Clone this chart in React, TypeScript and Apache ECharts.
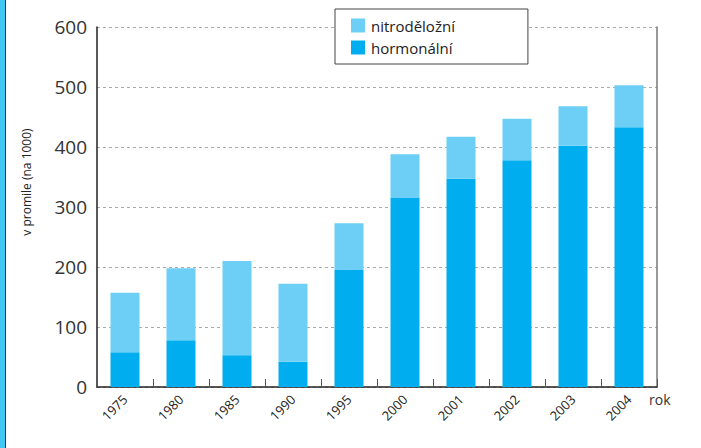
import React, { useEffect, useRef } from "react";
import * as echarts from "echarts";

const years = ["1975", "1980", "1985", "1990", "1995", "2000", "2001", "2002", "2003", "2004"];
const hormonal = [58, 78, 53, 42, 195, 315, 347, 378, 402, 433];
const nitro = [99, 120, 157, 130, 78, 73, 70, 69, 66, 70];
const yTicks = [0, 100, 200, 300, 400, 500, 600];

const FONT = "'Open Sans', 'Noto Sans', sans-serif";

export default function App() {
  const ref = useRef<HTMLDivElement>(null);
  useEffect(() => {
    if (!ref.current) return;
    const chart = echarts.init(ref.current, null, { renderer: "svg" });
    chart.setOption({
      animation: false,
      backgroundColor: "#fff",
      textStyle: { fontFamily: FONT },
      grid: { left: 97, right: 44, top: 27, bottom: 61, containLabel: false },
      legend: {
        left: 335,
        top: 9,
        orient: "vertical",
        data: ["nitroděložní", "hormonální"],
        itemWidth: 14,
        itemHeight: 14,
        itemGap: 7,
        icon: "rect",
        padding: [9, 73, 9, 16],
        borderColor: "#444",
        borderWidth: 1,
        backgroundColor: "#fff",
        textStyle: { fontFamily: FONT, fontSize: 15, color: "#222", padding: [0, 0, 0, 1] },
        z: 10,
      },
      xAxis: {
        type: "category",
        data: years,
        boundaryGap: true,
        axisLine: { lineStyle: { color: "#222", width: 1.5 } },
        axisTick: { show: true, inside: true, length: 8, lineStyle: { color: "#555", width: 1 } },
        axisLabel: { rotate: 45, fontSize: 13, color: "#222", margin: 10, fontFamily: FONT, interval: 0 },
      },
      yAxis: [
        {
          type: "value",
          min: 0,
          max: 600,
          interval: 100,
          axisLine: { show: true, lineStyle: { color: "#222", width: 1.5 } },
          axisTick: { show: false },
          axisLabel: { fontSize: 19, color: "#333", margin: 10, fontFamily: FONT },
          splitLine: { show: true, lineStyle: { color: "#aaa", type: [3, 3], width: 1 } },
        },
        {
          type: "value",
          min: 0,
          max: 600,
          interval: 100,
          position: "right",
          axisLine: { show: true, lineStyle: { color: "#777", width: 1.5 } },
          axisTick: { show: false },
          axisLabel: { show: false },
          splitLine: { show: false },
        },
      ],
      series: [
        {
          name: "hormonální",
          type: "bar",
          stack: "total",
          data: hormonal,
          barWidth: 29,
          itemStyle: { color: "#00aeef" },
        },
        {
          name: "nitroděložní",
          type: "bar",
          stack: "total",
          data: nitro,
          barWidth: 29,
          itemStyle: { color: "#6dcff6" },
        },
      ],
      graphic: [
        { type: "rect", left: 0, top: 0, shape: { width: 5, height: 448 }, style: { fill: "#42c6f2" } },
        { type: "rect", left: 5, top: 0, shape: { width: 1, height: 448 }, style: { fill: "#2a3a40" } },
        {
          type: "text",
          x: 26,
          y: 182,
          rotation: Math.PI / 2,
          style: {
            text: "v promile (na 1000)",
            fontSize: 12,
            fontFamily: FONT,
            fill: "#222",
            align: "center",
            verticalAlign: "middle",
          },
        },
        {
          type: "text",
          x: 649,
          y: 392,
          style: { text: "rok", fontSize: 14, fontFamily: FONT, fill: "#333", align: "left", verticalAlign: "top" },
        },
      ],
    });
    return () => chart.dispose();
  }, []);
  return <div ref={ref} style={{ width: 701, height: 448, position: "absolute", left: 0, top: 0 }} />;
}
